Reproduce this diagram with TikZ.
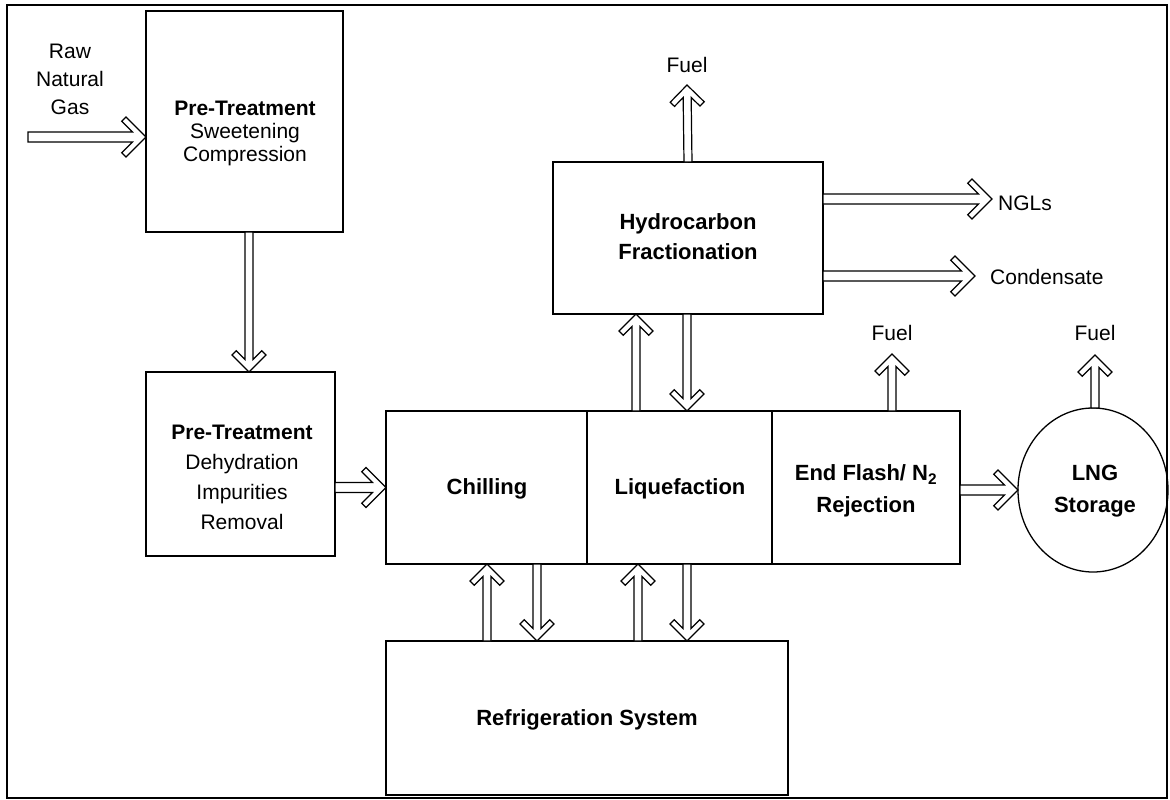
\documentclass[tikz,border=0pt]{standalone}
\usepackage{fontspec}
\setmainfont{Liberation Sans}
\usetikzlibrary{calc,shapes.geometric}
\tikzset{
  box/.style={draw, line width=1.3pt, inner sep=0pt, outer sep=0pt},
  lbl/.style={align=center, inner sep=0pt, font=\fontsize{21}{28}\selectfont},
  blbl/.style={align=center, inner sep=0pt, font=\fontsize{22}{31}\selectfont\bfseries},
  arr/.style={draw, fill=white, line width=1.2pt, line join=miter},
}
% #1 half head width, #2 half shaft width, #3 from, #4 to
\newcommand{\barrow}[4]{%
  \path[arr] let \p1=(#3), \p2=(#4), \n1={veclen(\x2-\x1,\y2-\y1)}, \n2={atan2(\y2-\y1,\x2-\x1)} in
   {[shift={(\p1)}, rotate=\n2]
    (0,#2) -- ({\n1-#2-8.49},#2) -- ({\n1-#1-4.24},{#1-4.24}) -- ({\n1-#1},#1) -- (\n1,0)
    -- ({\n1-#1},{-#1}) -- ({\n1-#1-4.24},{-(#1-4.24)}) -- ({\n1-#2-8.49},{-#2}) -- (0,{-#2}) -- cycle};
}
\newcommand{\harrow}[2]{\barrow{20}{5}{#1}{#2}}
\newcommand{\varrow}[2]{\barrow{17}{4}{#1}{#2}}
\begin{document}
\begin{tikzpicture}[x=1pt,y=-1pt]
\useasboundingbox (0,0) rectangle (1170,800);
\draw[line width=2pt] (7,5) rectangle (1167,798);

% boxes
\node[box, minimum width=197pt, minimum height=221pt] (pt1) at (244.5,121.5) {};
\node[box, minimum width=189pt, minimum height=184pt] (pt2) at (240.5,464) {};
\node[box, minimum width=201pt, minimum height=153pt] (chill) at (486.5,487.5) {};
\node[box, minimum width=185pt, minimum height=153pt] (liq) at (679.5,487.5) {};
\node[box, minimum width=188pt, minimum height=153pt] (endf) at (866,487.5) {};
\node[box, minimum width=270pt, minimum height=152pt] (hf) at (688,238) {};
\node[box, minimum width=402pt, minimum height=154pt] (refr) at (587,718) {};
\node[box, ellipse, minimum width=150pt, minimum height=164pt] (lng) at (1093,490) {};

% texts
\node[lbl, font=\fontsize{21}{28}\selectfont] (rawtxt) at (70,79) {Raw\\Natural\\Gas};
\node[lbl, font=\fontsize{21}{23}\selectfont] (pt1txt) at (245,133) {\textbf{Pre-Treatment}\\Sweetening\\Compression};
\node[lbl, font=\fontsize{21}{30}\selectfont] (pt2txt) at (242,477) {\textbf{Pre-Treatment}\\Dehydration\\Impurities\\Removal};
\node[blbl, font=\fontsize{22}{30}\selectfont\bfseries] (hftxt) at (688,237) {Hydrocarbon\\Fractionation};
\node[blbl] (chtxt) at (487,489) {Chilling};
\node[blbl] (lqtxt) at (680,489) {Liquefaction};
\node[blbl, font=\fontsize{22}{32}\selectfont\bfseries] (eftxt) at (866,491) {End Flash/ N\textsubscript{2}\\Rejection};
\node[blbl, font=\fontsize{22}{32}\selectfont\bfseries] (lngtxt) at (1095,491) {LNG\\Storage};
\node[blbl] (rftxt) at (587,720) {Refrigeration System};
\node[lbl] (fuel1) at (687,65) {Fuel};
\node[lbl] (fuel2) at (892,333) {Fuel};
\node[lbl] (fuel3) at (1095,333) {Fuel};
\node[lbl, anchor=west] (ngl) at (998,203) {NGLs};
\node[lbl, anchor=west] (cond) at (990,277) {Condensate};

% free ends
\coordinate (rawstart) at (28,137);
\coordinate (f1) at (687,85);
\coordinate (f2) at (892,354);
\coordinate (f3) at (1095,355);
\coordinate (nglend) at (992,199);
\coordinate (condend) at (975,276);

% arrows
\harrow{rawstart}{pt1.west |- rawstart}
\varrow{[xshift=4.5pt]pt1.south}{[xshift=8.5pt]pt2.north}
\harrow{pt2.east |- chill.west}{chill.west}
\varrow{[xshift=0.5pt]refr.north -| chill.south}{[xshift=0.5pt]chill.south}
\varrow{[xshift=50.5pt]chill.south}{[xshift=-50pt]refr.north}
\varrow{[xshift=-41.5pt]refr.north -| liq.south}{[xshift=-41.5pt]liq.south}
\varrow{[xshift=7.5pt]liq.south}{[xshift=100pt]refr.north}
\varrow{[xshift=-43.5pt]liq.north}{[xshift=-52pt]hf.south}
\varrow{[xshift=-1pt]hf.south}{[xshift=7.5pt]liq.north}
\varrow{hf.north}{f1}
\harrow{hf.east |- nglend}{nglend}
\harrow{hf.east |- condend}{condend}
\varrow{endf.north -| f2}{f2}
\harrow{endf.east |- lng.west}{lng.west}
\varrow{lng.north -| f3}{f3}
\end{tikzpicture}
\end{document}
